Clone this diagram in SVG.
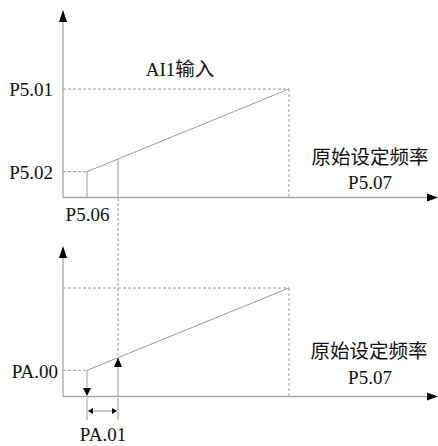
<svg xmlns="http://www.w3.org/2000/svg" width="438" height="446" viewBox="0 0 438 446">
<style>
.ax{stroke:#a6a6a6;stroke-width:1.3;fill:none}
.ln{stroke:#9a9a9a;stroke-width:1;fill:none}
.ds{stroke:#9a9a9a;stroke-width:1;fill:none;stroke-dasharray:3,2}
.ah{fill:#000}
text{font-family:"Liberation Serif","Noto Sans CJK SC",serif;font-size:19px;fill:#111}
.cjk{font-size:19.5px}
</style>
<rect width="438" height="446" fill="#fff"/>
<g id="connectors">
<line class="ax" x1="63" y1="20" x2="63" y2="197.5"/>
<line class="ax" x1="63" y1="197.5" x2="429" y2="197.5"/>
<polygon class="ah" points="63,10 59,22 67,22"/>
<polygon class="ah" points="438,197.5 427,193.5 427,201.5"/>
<line class="ds" x1="63" y1="89" x2="289" y2="89"/>
<line class="ds" x1="289" y1="89" x2="289" y2="197"/>
<line class="ds" x1="63" y1="171.7" x2="87" y2="171.7"/>
<line class="ln" x1="87" y1="171.7" x2="289" y2="89"/>
<line class="ln" x1="87" y1="171.7" x2="87" y2="197"/>
<line class="ln" x1="118" y1="159" x2="118" y2="197"/>
<line class="ds" x1="118" y1="198" x2="118" y2="358"/>
<line class="ax" x1="63" y1="256" x2="63" y2="396.5"/>
<line class="ax" x1="63" y1="396.5" x2="429" y2="396.5"/>
<polygon class="ah" points="63,246 59,258 67,258"/>
<polygon class="ah" points="438,396.5 427,392.5 427,400.5"/>
<line class="ds" x1="63" y1="288" x2="289" y2="288"/>
<line class="ds" x1="289" y1="288" x2="289" y2="396"/>
<line class="ds" x1="63" y1="370.3" x2="87" y2="370.3"/>
<line class="ln" x1="87" y1="370.3" x2="289" y2="288"/>
<line class="ln" x1="87" y1="370.3" x2="87" y2="389"/>
<polygon class="ah" points="87,396 83,388 91,388"/>
<line class="ln" x1="118" y1="366" x2="118" y2="396"/>
<polygon class="ah" points="118,357.5 114,367 122,367"/>
<line class="ln" x1="87" y1="398" x2="87" y2="420"/>
<line class="ln" x1="118" y1="398" x2="118" y2="420"/>
<line class="ln" x1="90" y1="411" x2="115" y2="411"/>
<polygon class="ah" points="88,411 93,408 93,414"/>
<polygon class="ah" points="117,411 112,408 112,414"/>
</g>
<g id="label-p501"><text x="53" y="96" text-anchor="end">P5.01</text></g>
<g id="label-p502"><text x="53" y="179" text-anchor="end">P5.02</text></g>
<g id="label-p506"><text x="87.5" y="221" text-anchor="middle">P5.06</text></g>
<g id="label-ai1"><text x="180" y="76" text-anchor="middle">AI1<tspan class="cjk">输入</tspan></text></g>
<g id="label-freq-top"><text class="cjk" x="370" y="164" text-anchor="middle">原始设定频率</text><text x="370" y="189" text-anchor="middle">P5.07</text></g>
<g id="label-pa00"><text x="58" y="378" text-anchor="end">PA.00</text></g>
<g id="label-pa01"><text x="103" y="441" text-anchor="middle">PA.01</text></g>
<g id="label-freq-bottom"><text class="cjk" x="369" y="358" text-anchor="middle">原始设定频率</text><text x="370" y="384" text-anchor="middle">P5.07</text></g>
</svg>
